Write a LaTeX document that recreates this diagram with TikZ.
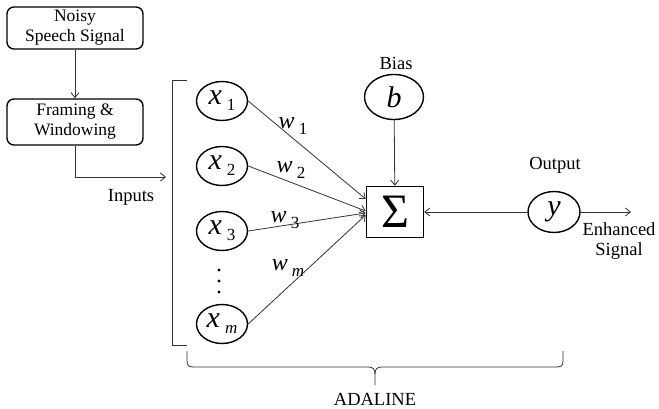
\documentclass[tikz,border=0pt]{standalone}
\usepackage{fontspec}
\setmainfont{Liberation Serif}
\newfontfamily\tnr{Liberation Serif}
\usetikzlibrary{arrows.meta,shapes.geometric,calc}

% italic variable with a lowered index
\newcommand\varidx[2]{\textit{#1}\,\raisebox{-6pt}{\fontsize{17}{17}\selectfont #2}}

\begin{document}
\begin{tikzpicture}[x=1pt,y=-1pt,
  box/.style={draw,line width=1.4pt,rounded corners=7pt,minimum width=136pt,
    minimum height=42pt,align=center,inner sep=2pt,font=\tnr\fontsize{17.5}{20}\selectfont},
  neuron/.style={draw,line width=1.4pt,ellipse,minimum width=51pt,minimum height=39pt,
    inner sep=0pt,font=\tnr\fontsize{30}{30}\selectfont},
  lbl/.style={font=\tnr\fontsize{18.5}{20}\selectfont,inner sep=0pt},
  wlbl/.style={font=\tnr\fontsize{24}{25}\selectfont,inner sep=0pt},
  conn/.style={line width=0.8pt,draw=black!80,-{Straight Barb[length=5pt,width=8pt]}},
  plain/.style={line width=0.8pt,draw=black!80},
]
\useasboundingbox (0,0) rectangle (659,409);

% preprocessing chain
\node[box] (noisy) at (75,28) {Noisy\\Speech Signal};
\node[box,minimum height=46pt] (frame) at (75,122) {Framing \&\\Windowing};
\coordinate (inp) at (166,177);
\draw[conn] (noisy) -- (frame);
\draw[conn] (frame.south) |- (inp);
\node[lbl] (inlabel) at (131,197) {Inputs};

% input bracket
\draw[plain] (187,80) -- (172,80) -- (172,345) -- (187,345);

% inputs
\node[neuron] (x1) at (222,101) {\varidx{x}{1}};
\node[neuron] (x2) at (222,166) {\varidx{x}{2}};
\node[neuron] (x3) at (222,231) {\varidx{x}{3}};
\node[neuron] (xm) at (222,324) {\varidx{x}{\textit{m}}};
\foreach \yy in {270,281,292} \fill (219,\yy) circle (1.6pt);

% summing junction, bias and output
\node[draw,line width=1.6pt,minimum width=57pt,minimum height=51pt,inner sep=0pt,
  font=\tnr\fontsize{48}{48}\selectfont] (sig) at (395,212) {Σ};
\node[neuron,minimum width=59pt,minimum height=45pt] (b) at (394,97) {\textit{b}};
\node[lbl] (biaslbl) at (396,63) {Bias};
\node[neuron,minimum width=52pt,minimum height=41pt] (y) at (554,212) {\textit{y}};
\node[lbl] (outlbl) at (555,165) {Output};
\coordinate (out) at (631,212);
\node[lbl,align=center] (enh) at (619,241) {Enhanced\\Signal};

% weighted connections
\draw[conn] (x1.east) -- ($(sig.west)+(0,-13)$);
\draw[conn] (x2.east) -- ($(sig.west)+(0,-1)$);
\draw[conn] (x3.east) -- ($(sig.west)+(0,1)$);
\draw[conn] (xm.east) -- ($(sig.west)+(0,3)$);
\node[wlbl] (w1) at (293,126) {\varidx{w}{1}};
\node[wlbl] (w2) at (291,170) {\varidx{w}{2}};
\node[wlbl] (w3) at (285,220) {\varidx{w}{3}};
\node[wlbl] (wm) at (288,268) {\varidx{w}{\textit{m}}};

\draw[conn] (b) -- (sig);
\draw[conn] (y) -- (sig);
\draw[conn] (y) -- (out);

% ADALINE brace
\draw[plain] (187,351) -- (187,361) .. controls (187,366) and (189,367) .. (194,367)
  -- (368,367) .. controls (373,367) and (375,369) .. (375,374) -- (375,385);
\draw[plain] (563,351) -- (563,361) .. controls (563,366) and (561,367) .. (556,367)
  -- (382,367) .. controls (377,367) and (375,369) .. (375,374);
\node[lbl] (adaline) at (375,399) {ADALINE};
\end{tikzpicture}
\end{document}
